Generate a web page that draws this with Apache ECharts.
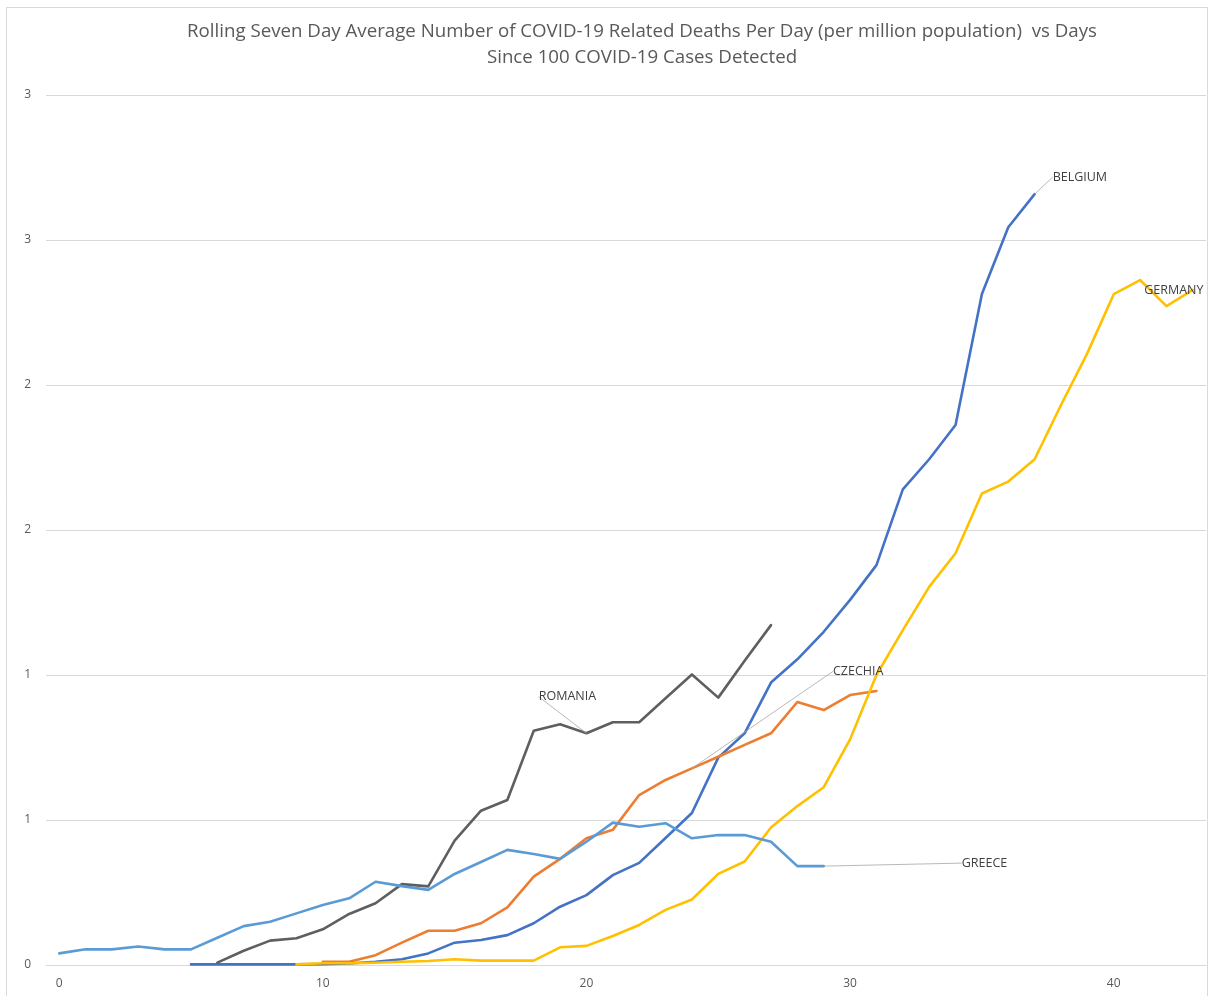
<!DOCTYPE html>
<html><head><meta charset="utf-8">
<script src="https://cdn.jsdelivr.net/npm/echarts@6/dist/echarts.min.js"></script>
<style>html,body{margin:0;padding:0;background:#fff}#c{width:1209px;height:996px}</style>
</head><body><div id="c"></div>
<script>
const titleLines = ['Rolling Seven Day Average Number of COVID-19 Related Deaths Per Day (per million population)  vs Days', 'Since 100 COVID-19 Cases Detected'];
const days = [0,1,2,3,4,5,6,7,8,9,10,11,12,13,14,15,16,17,18,19,20,21,22,23,24,25,26,27,28,29,30,31,32,33,34,35,36,37,38,39,40,41,42,43];
const seriesNames = ['BELGIUM', 'CZECHIA', 'ROMANIA', 'GERMANY', 'GREECE'];
const belgium = [null,null,null,null,null,0.002,0.002,0.002,0.002,0.002,0.003,0.005,0.011,0.020,0.040,0.077,0.086,0.103,0.144,0.201,0.241,0.310,0.352,0.438,0.524,0.715,0.799,0.974,1.054,1.149,1.259,1.379,1.640,1.744,1.862,2.314,2.544,2.658];
const czechia = [null,null,null,null,null,null,null,null,null,null,0.011,0.011,0.034,0.077,0.118,0.118,0.144,0.199,0.305,0.366,0.437,0.466,0.586,0.638,0.678,0.718,0.759,0.799,0.907,0.879,0.931,0.945];
const romania = [null,null,null,null,null,null,0.008,0.049,0.084,0.092,0.123,0.176,0.213,0.279,0.271,0.429,0.532,0.569,0.808,0.830,0.799,0.837,0.837,0.920,1.002,0.922,1.049,1.172];
const germany = [null,null,null,null,null,null,null,null,null,0.002,0.006,0.006,0.008,0.011,0.014,0.020,0.015,0.015,0.015,0.061,0.066,0.100,0.138,0.190,0.226,0.314,0.357,0.474,0.548,0.613,0.778,1.000,1.155,1.304,1.420,1.626,1.667,1.744,1.931,2.110,2.313,2.362,2.272,2.328];
const greece = [0.040,0.054,0.054,0.064,0.054,0.054,0.094,0.134,0.149,0.178,0.207,0.230,0.287,0.272,0.259,0.314,0.355,0.397,0.383,0.366,0.425,0.491,0.477,0.489,0.437,0.448,0.448,0.425,0.341,0.341];
// which point of each series carries its name label
const labelDay = {BELGIUM: 37, CZECHIA: 24, ROMANIA: 20, GERMANY: 43, GREECE: 29};

const FONT = '"Open Sans", "Noto Sans", sans-serif';
const labelStyle = {fontFamily: FONT, fontSize: 12.5, color: '#404040', opacity: 1};
const guide = {show: true, lineStyle: {color: '#A6A6A6', width: 0.8}};

function build(values, name, pos, showLine) {
  return values.map((v, i) => i === labelDay[name]
    ? {value: v, label: Object.assign({show: true, formatter: name, position: pos}, labelStyle), labelLine: showLine ? guide : {show: false}}
    : v);
}

function lineSeries(name, values, color, pos, layout, showLine) {
  return {
    name: name, type: 'line', data: build(values, name, pos, showLine),
    showSymbol: true, showAllSymbol: true, symbol: 'circle', symbolSize: 0,
    itemStyle: {color: color},
    lineStyle: {color: color, width: 2.6, cap: 'round', join: 'round'},
    label: {show: false},
    labelLine: guide,
    labelLayout: layout,
    emphasis: {disabled: true}, silent: true, animation: false, connectNulls: false
  };
}

const chart = echarts.init(document.getElementById('c'), null, {renderer: 'canvas'});
chart.setOption({
  backgroundColor: '#fff',
  animation: false,
  grid: {left: 46, right: 3, top: 95, bottom: 31, containLabel: false},
  xAxis: {
    type: 'category', data: days, boundaryGap: true,
    axisLine: {show: true, lineStyle: {color: '#D9D9D9', width: 1}},
    axisTick: {show: false},
    axisLabel: {interval: 9, margin: 13, color: '#595959', fontFamily: FONT, fontSize: 12},
    splitLine: {show: false}
  },
  yAxis: {
    type: 'value', min: 0, max: 3, interval: 0.5,
    axisLine: {show: false}, axisTick: {show: false},
    axisLabel: {margin: 15, color: '#595959', fontFamily: FONT, fontSize: 12, formatter: v => String(Math.round(v))},
    splitLine: {show: true, lineStyle: {color: '#D9D9D9', width: 1}}
  },
  graphic: [
    {type: 'rect', shape: {x: 6.5, y: 7.5, width: 1201, height: 1000}, style: {fill: 'none', stroke: '#D9D9D9', lineWidth: 1}, silent: true, z: -1},
    {type: 'text', x: 642, y: 19, style: {text: titleLines.join('\n'), align: 'center', verticalAlign: 'top', fontFamily: FONT, fontSize: 18.7, lineHeight: 26, fill: '#595959'}, silent: true}
  ],
  series: [
    lineSeries('BELGIUM', belgium, '#4472C4', 'right', {dx: 13, dy: -17}, true),
    lineSeries('CZECHIA', czechia, '#ED7D31', 'right', {dx: 136, dy: -97}, true),
    lineSeries('ROMANIA', romania, '#5F5F5F', 'top', {dx: -19, dy: -25}, true),
    lineSeries('GERMANY', germany, '#FFC000', 'inside', {dx: -19, dy: 1}, false),
    lineSeries('GREECE', greece, '#5B9BD5', 'right', {dx: 133, dy: -3}, true)
  ]
});
</script>
</body></html>
